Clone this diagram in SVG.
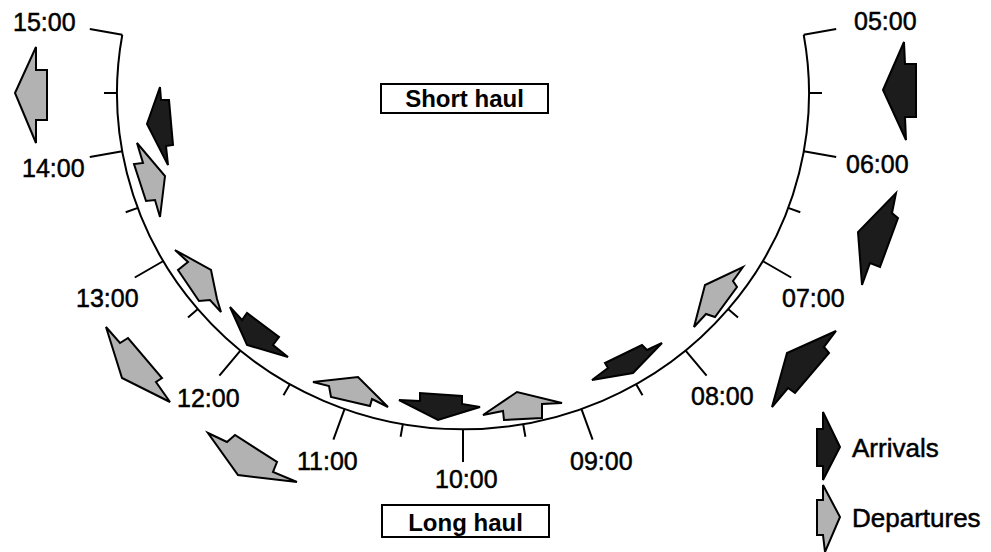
<svg xmlns="http://www.w3.org/2000/svg" width="991" height="552" viewBox="0 0 991 552">
<style>
.bg{fill:#fff}
.arc{fill:none;stroke:#000;stroke-width:2}
.tick{stroke:#000;stroke-width:2;fill:none}
.lbl{font-family:"Liberation Sans",Arial,sans-serif;font-size:25px;fill:#000;stroke:#000;stroke-width:0.5}
.dark{fill:#1c1c1c;stroke:#000;stroke-width:2;stroke-linejoin:miter}
.light{fill:#b2b2b2;stroke:#000;stroke-width:2;stroke-linejoin:miter}
.box{fill:#fff;stroke:#000;stroke-width:2}
.boxtxt{font-family:"Liberation Sans",Arial,sans-serif;font-size:24px;font-weight:bold;fill:#000;text-anchor:middle}
.leg{font-family:"Liberation Sans",Arial,sans-serif;font-size:26px;fill:#000;stroke:#000;stroke-width:0.5}
</style>
<rect class="bg" x="0" y="0" width="991" height="552"/>
<g id="dial">
<path class="arc" d="M803.7 34.7 A346 336 0 1 1 122.3 34.7"/>
<g id="ticks">
<path class="tick" d="M803.7 34.7L836.2 29M809 93L822 93M803.7 151.3L836.2 157M788.1 207.9L800.3 212.3M762.6 261L791.2 277.5M728.1 309L738 317.4M685.4 350.4L706.6 375.7M636 384L642.5 395.3M581.3 408.7L592.6 439.7M523.1 423.9L525.4 436.7M463 429L463 462M402.9 423.9L400.6 436.7M344.7 408.7L333.4 439.7M290 384L283.5 395.3M240.6 350.4L219.4 375.7M197.9 309L188 317.4M163.4 261L134.8 277.5M137.9 207.9L125.7 212.3M122.3 151.3L89.8 157M117 93L104 93M122.3 34.7L89.8 29"/>
</g>
</g>
<g id="hour-labels">
<text class="lbl" x="13" y="31">15:00</text>
<text class="lbl" x="22" y="177">14:00</text>
<text class="lbl" x="76" y="307">13:00</text>
<text class="lbl" x="177" y="407">12:00</text>
<text class="lbl" x="297" y="470">11:00</text>
<text class="lbl" x="435" y="488">10:00</text>
<text class="lbl" x="570" y="470">09:00</text>
<text class="lbl" x="691" y="405">08:00</text>
<text class="lbl" x="782" y="307">07:00</text>
<text class="lbl" x="846" y="173">06:00</text>
<text class="lbl" x="854" y="30">05:00</text>
</g>
<g id="short-haul">
<rect class="box" x="381" y="84" width="167" height="29"/>
<text class="boxtxt" x="464.5" y="107">Short haul</text>
</g>
<g id="long-haul">
<rect class="box" x="382" y="505" width="167" height="32"/>
<text class="boxtxt" x="465.5" y="531">Long haul</text>
</g>
<g id="arrows">
<g id="arr-1500-dep"><polygon class="light" points="15,93 36,47 36,70 47,70 47,120 36,120 36,143"/></g>
<g id="arr-1430-arr"><polygon class="dark" points="160,87 161,100 169,100 173,145 166,146 168,165 147,124"/></g>
<g id="arr-1400-dep"><polygon class="light" points="137,143 165,176 160,217 155,200 146,201 134,164 143,163"/></g>
<g id="arr-1300-dep"><polygon class="light" points="175,250 211,270 217,299 221,312 210,300 199,301 178,270 188,262"/></g>
<g id="arr-1230-arr"><polygon class="dark" points="230,307 242,320 247,313 279,337 273,345 288,357 247,345"/></g>
<g id="arr-1130-dep"><polygon class="light" points="313,382 358,377 388,407 372,399 370,406 331,397 329,386"/></g>
<g id="arr-1030-arr"><polygon class="dark" points="399,400 420,401 420,393 462,396 462,404 480,407 438,420"/></g>
<g id="arr-0930-dep"><polygon class="light" points="483,415 517,392 562,403 542,404 542,418 504,420 503,411"/></g>
<g id="arr-0830-arr"><polygon class="dark" points="592,380 608,368 605,363 642,345 647,350 662,343 633,373"/></g>
<g id="arr-0730-dep"><polygon class="light" points="743,267 733,281 737,287 715,317 706,314 694,327 705,285"/></g>
<g id="arr-0500-arr"><polygon class="dark" points="883,90 904,42 905,64 916,64 916,117 905,117 906,140"/></g>
<g id="arr-0630-arr"><polygon class="dark" points="896,193 892,213 898,218 880,267 870,263 862,285 858,232"/></g>
<g id="arr-0745-arr"><polygon class="dark" points="836,331 824,347 829,353 795,393 788,388 772,407 787,353"/></g>
<g id="arr-1245-dep"><polygon class="light" points="106,327 120,343 128,338 162,378 156,382 170,402 122,378"/></g>
<g id="arr-1145-dep"><polygon class="light" points="208,433 227,442 235,435 277,462 273,472 297,482 238,475"/></g>
</g>
<g id="legend">
<g id="legend-arrivals">
<polygon class="dark" points="823,412 840,447 823,480 823,466 817,466 817,429 823,429"/>
<text class="leg" x="852" y="457">Arrivals</text>
</g>
<g id="legend-departures">
<polygon class="light" points="823,485 840,517 825,552 823,535 817,535 817,500 823,500"/>
<text class="leg" x="852" y="527">Departures</text>
</g>
</g>
</svg>
